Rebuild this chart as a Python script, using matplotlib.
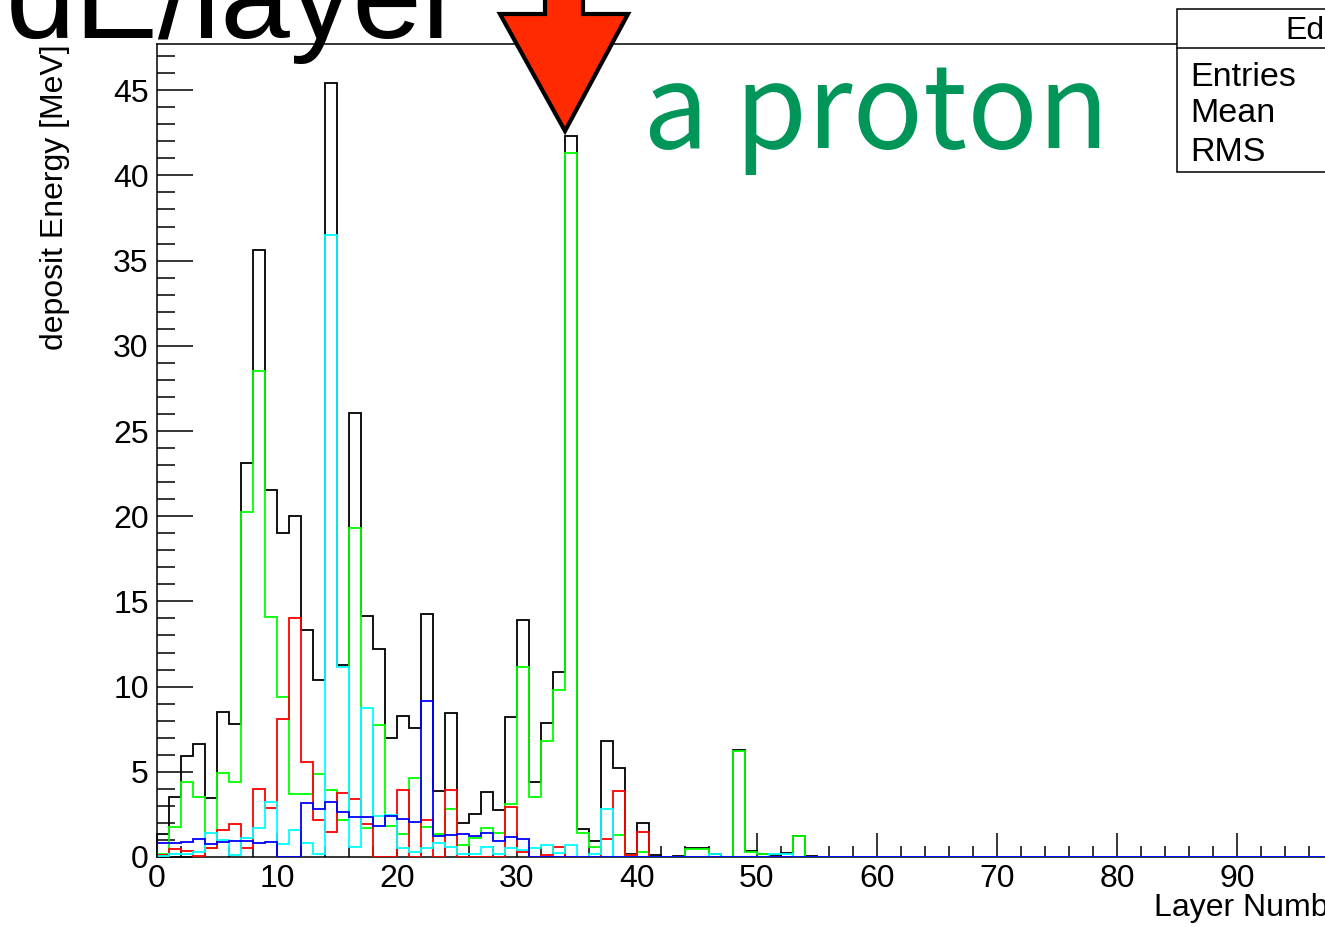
import numpy as np
import matplotlib
matplotlib.use("Agg")
import matplotlib.pyplot as plt
from matplotlib.patches import Polygon, Rectangle
from matplotlib.lines import Line2D
from matplotlib.ticker import MultipleLocator

# ---- energy deposited per layer [MeV], layers 0..55 (remaining layers are empty)
total = [1.35, 3.53, 5.93, 6.61, 3.44, 8.49, 7.79, 23.14, 35.6, 21.54,
         19.0, 20.03, 13.32, 10.39, 45.44, 11.25, 26.07, 14.14, 12.22, 7.0,
         8.28, 7.59, 14.25, 3.85, 8.47, 1.97, 2.54, 3.81, 2.75, 8.23,
         13.9, 4.38, 7.88, 10.83, 42.3, 1.62, 0.96, 6.8, 5.2, 0.17,
         2.02, 0.1, 0.0, 0.05, 0.5, 0.5, 0.2, 0.0, 6.3, 0.37,
         0.2, 0.1, 0.25, 1.25, 0.08]
green = [0.16, 1.78, 4.41, 3.54, 0.5, 4.95, 4.41, 20.26, 28.5, 14.1,
         9.41, 3.7, 3.7, 4.87, 3.93, 2.15, 19.28, 1.68, 7.75, 1.83,
         1.33, 4.66, 1.74, 1.36, 2.8, 0.7, 1.09, 1.68, 1.4, 3.12,
         11.13, 3.5, 6.81, 9.8, 41.3, 1.38, 0.57, 0.0, 1.28, 0.1,
         0.31, 0.0, 0.0, 0.0, 0.45, 0.45, 0.0, 0.0, 6.24, 0.3,
         0.18, 0.0, 0.0, 1.25]
red = [0.1, 0.45, 0.35, 0.05, 0.55, 1.58, 1.95, 0.5, 4.0, 2.85,
       8.12, 14.0, 5.6, 2.17, 1.45, 3.73, 3.4, 1.94, 0.0, 0.0,
       3.96, 0.0, 2.2, 0.0, 3.94, 0.0, 0.0, 0.0, 0.0, 2.95,
       0.31, 0.0, 0.14, 0.6, 0.0, 0.0, 0.0, 1.06, 3.88, 0.1,
       1.49]
cyan = [0.05, 0.16, 0.16, 0.31, 1.43, 1.02, 0.13, 1.1, 1.68, 3.22,
        0.74, 1.58, 0.8, 0.18, 36.5, 11.15, 0.6, 8.72, 2.4, 2.45,
        0.52, 0.3, 0.5, 0.8, 0.6, 0.15, 0.2, 0.6, 0.2, 0.5,
        0.4, 0.54, 0.7, 0.25, 0.7, 0.0, 0.2, 2.83, 0.0, 0.0,
        0.0, 0.0, 0.0, 0.0, 0.0, 0.0, 0.18, 0.0, 0.0, 0.0,
        0.0, 0.15, 0.2]
blue = [0.85, 0.85, 0.86, 1.04, 0.78, 0.88, 0.92, 0.92, 0.82, 0.88,
        0.0, 0.0, 3.14, 2.79, 3.25, 2.65, 2.37, 2.33, 1.82, 2.4,
        2.23, 2.03, 9.18, 1.25, 1.3, 1.35, 1.25, 1.4, 0.95, 1.19,
        1.03]

N_LAYERS = 100
edges = np.arange(N_LAYERS + 1)


def full(vals):
    """Pad a per-layer list with empty layers up to N_LAYERS."""
    v = np.zeros(N_LAYERS)
    v[:len(vals)] = vals
    return v


plt.rcParams['font.family'] = ['Liberation Sans', 'DejaVu Sans']

W, H = 1325, 927
fig = plt.figure(figsize=(W / 100, H / 100), dpi=100)


def fx(px):
    return px / W


def fy(py):
    return 1 - py / H


# frame: x 0..100 spans 157..1357 px, y 0 at 857 px, top edge at 44 px
ax = fig.add_axes([fx(157), fy(857), 1200 / W, (857 - 44) / H])
ax.set_xlim(0, 100)
ax.set_ylim(0, (857 - 44) / 17.04)

series = [(total, 'black'), (green, '#00ff00'), (red, '#ff0000'),
          (cyan, '#00ffff'), (blue, '#0000ff')]
for vals, col in series:
    ax.stairs(full(vals), edges, color=col, lw=1.3, baseline=0, zorder=3)

ax.xaxis.set_major_locator(MultipleLocator(10))
ax.xaxis.set_minor_locator(MultipleLocator(2))
ax.yaxis.set_major_locator(MultipleLocator(5))
ax.yaxis.set_minor_locator(MultipleLocator(1))
ax.tick_params(axis='x', which='major', direction='in', length=17, width=1.1,
               labelsize=23, pad=5)
ax.tick_params(axis='x', which='minor', direction='in', length=8, width=1.1)
ax.tick_params(axis='y', which='major', direction='in', length=26, width=1.1,
               labelsize=23, pad=6)
ax.tick_params(axis='y', which='minor', direction='in', length=13, width=1.1)
ax.tick_params(top=False, right=False)
for sp in ax.spines.values():
    sp.set_linewidth(1.1)

ax.set_xlabel('Layer Number', fontsize=23, loc='right')
ax.xaxis.set_label_coords(1.0, -(893 - 857) / (857 - 44))
ax.xaxis.label.set_va('top')

fig.text(fx(55), fy(44), 'deposit Energy [MeV]', rotation=90, fontsize=23,
         ha='center', va='top')

# statistics box
box = Rectangle((fx(1177), fy(172)), fx(400), (172 - 9) / H,
                transform=fig.transFigure, facecolor='white',
                edgecolor='black', lw=1.1, zorder=5)
fig.patches.append(box)
fig.lines.append(Line2D([fx(1177), 1.2], [fy(48), fy(48)],
                        transform=fig.transFigure, color='black', lw=1.1,
                        zorder=6))
fig.text(fx(1285), fy(39), 'Edep', fontsize=23, ha='left', va='baseline',
         zorder=7)
for label, base in [('Entries', 86), ('Mean', 122), ('RMS', 161)]:
    fig.text(fx(1190), fy(base), label, fontsize=24.5, ha='left',
             va='baseline', zorder=7)

# big overlay title
fig.text(fx(6), fy(38), 'dE/layer', fontsize=90, ha='left', va='baseline',
         zorder=8)

# red pointer arrow
arrow_px = [(545, -30), (545, 14), (500, 14), (565, 131), (628, 14),
            (583, 14), (583, -30)]
arrow = Polygon([(fx(x), fy(y)) for x, y in arrow_px], closed=True,
                transform=fig.transFigure, facecolor='#ff2a00',
                edgecolor='black', lw=3, joinstyle='miter', zorder=9)
fig.patches.append(arrow)

fig.text(fx(643), fy(148), 'a proton', fontsize=84, color='#00965a',
         family=['Noto Sans CJK JP', 'DejaVu Sans'], ha='left',
         va='baseline', zorder=8)

fig.savefig('out.png', dpi=100)
